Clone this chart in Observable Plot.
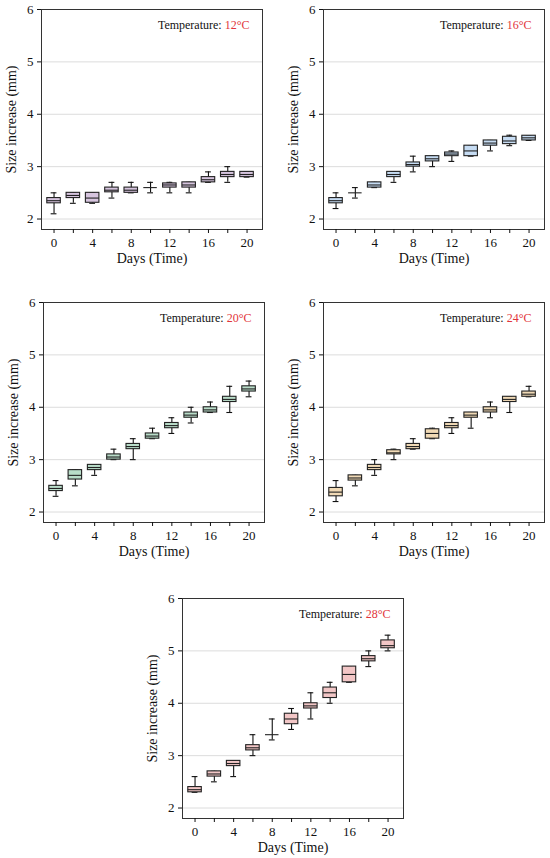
<!DOCTYPE html>
<html>
<head>
<meta charset="utf-8">
<script src="https://cdn.jsdelivr.net/npm/d3@7"></script>
<script src="https://cdn.jsdelivr.net/npm/@observablehq/plot@0.6"></script>
<style>
  body { margin: 0; background: #fff; }
  #wrap { position: relative; width: 550px; height: 858px; background: #fff; }
  .panel { position: absolute; }
</style>
</head>
<body>
<div id="wrap"></div>
<script>
// Days (x categories)
const days = [0, 2, 4, 6, 8, 10, 12, 14, 16, 18, 20];
const temperatures = ["12°C", "16°C", "20°C", "24°C", "28°C"];
const xTicks = [0, 2, 4, 6, 8, 10, 12, 14, 16, 18, 20];
const yTicks = [2, 3, 4, 5, 6];

// Box statistics per day: [whisker low, Q1, median, Q3, whisker high]
const t12 = [
  [2.10, 2.30, 2.35, 2.40, 2.50],
  [2.30, 2.40, 2.45, 2.50, 2.50],
  [2.30, 2.31, 2.40, 2.50, 2.50],
  [2.40, 2.51, 2.55, 2.60, 2.70],
  [2.50, 2.50, 2.55, 2.60, 2.70],
  [2.50, 2.60, 2.60, 2.60, 2.70],
  [2.50, 2.60, 2.65, 2.68, 2.70],
  [2.50, 2.60, 2.65, 2.70, 2.70],
  [2.70, 2.70, 2.75, 2.80, 2.90],
  [2.70, 2.80, 2.85, 2.90, 3.00],
  [2.80, 2.80, 2.85, 2.90, 2.90]
];
const t16 = [
  [2.20, 2.30, 2.35, 2.40, 2.50],
  [2.40, 2.50, 2.50, 2.50, 2.60],
  [2.60, 2.60, 2.65, 2.70, 2.70],
  [2.70, 2.80, 2.85, 2.90, 2.90],
  [2.90, 3.00, 3.04, 3.08, 3.20],
  [3.00, 3.10, 3.15, 3.20, 3.20],
  [3.10, 3.20, 3.24, 3.27, 3.30],
  [3.20, 3.20, 3.30, 3.40, 3.40],
  [3.30, 3.40, 3.45, 3.50, 3.50],
  [3.40, 3.43, 3.49, 3.57, 3.60],
  [3.50, 3.50, 3.55, 3.59, 3.59]
];
const t20 = [
  [2.30, 2.40, 2.45, 2.50, 2.60],
  [2.50, 2.62, 2.70, 2.80, 2.80],
  [2.70, 2.80, 2.85, 2.90, 2.90],
  [3.00, 3.00, 3.05, 3.10, 3.20],
  [3.00, 3.20, 3.25, 3.30, 3.40],
  [3.40, 3.40, 3.45, 3.50, 3.60],
  [3.50, 3.60, 3.65, 3.70, 3.80],
  [3.70, 3.80, 3.85, 3.90, 4.00],
  [3.90, 3.90, 3.95, 4.00, 4.10],
  [3.90, 4.10, 4.15, 4.20, 4.40],
  [4.20, 4.30, 4.35, 4.40, 4.50]
];
const t24 = [
  [2.20, 2.30, 2.38, 2.46, 2.60],
  [2.50, 2.60, 2.65, 2.70, 2.70],
  [2.70, 2.80, 2.85, 2.90, 3.00],
  [3.00, 3.10, 3.13, 3.18, 3.20],
  [3.20, 3.20, 3.25, 3.30, 3.40],
  [3.40, 3.40, 3.50, 3.58, 3.60],
  [3.50, 3.60, 3.65, 3.70, 3.80],
  [3.60, 3.80, 3.85, 3.90, 3.90],
  [3.80, 3.90, 3.95, 4.00, 4.10],
  [3.90, 4.10, 4.15, 4.20, 4.20],
  [4.20, 4.20, 4.25, 4.30, 4.40]
];
const t28 = [
  [2.30, 2.30, 2.35, 2.40, 2.60],
  [2.50, 2.60, 2.65, 2.70, 2.70],
  [2.60, 2.80, 2.85, 2.90, 2.90],
  [3.00, 3.10, 3.15, 3.20, 3.40],
  [3.30, 3.40, 3.40, 3.40, 3.70],
  [3.50, 3.60, 3.70, 3.80, 3.90],
  [3.70, 3.90, 3.95, 4.00, 4.20],
  [4.00, 4.10, 4.20, 4.30, 4.40],
  [4.40, 4.40, 4.55, 4.70, 4.70],
  [4.70, 4.80, 4.85, 4.90, 5.00],
  [5.00, 5.05, 5.10, 5.20, 5.30]
];
const series = [t12, t16, t20, t24, t28];
const fills = ["#d6c4de", "#c6dcf3", "#b9ddc9", "#f1dab6", "#f2c6c6"];

// Panel layout (px)
const layout = [
  {left: 0,   top: 0,   width: 275, ml: 41},
  {left: 282, top: 0,   width: 275, ml: 41},
  {left: 2,   top: 293, width: 276, ml: 41},
  {left: 282, top: 293, width: 275, ml: 41},
  {left: 141, top: 589, width: 279, ml: 41}
];

const wrap = document.getElementById("wrap");
const font = "'Liberation Serif', 'Times New Roman', serif";
const hw = 0.7, cw = 0.3;

series.forEach((s, i) => {
  const rows = days.map((d, j) => ({day: d, lo: s[j][0], q1: s[j][1], med: s[j][2], q3: s[j][3], hi: s[j][4]}));
  const L = layout[i];
  const svg = Plot.plot({
    width: L.width,
    height: 275,
    marginLeft: L.ml,
    marginRight: L.width - L.ml - 221,
    marginTop: 9,
    marginBottom: 46,
    style: {fontFamily: font, fontSize: "13px", color: "#111", background: "#fff"},
    x: {domain: [-1.3, 21.6]},
    y: {domain: [1.8, 6]},
    marks: [
      Plot.ruleY([2, 3, 4, 5], {stroke: "#dcdcdc", strokeWidth: 1}),
      Plot.ruleX(rows, {x: "day", y1: "lo", y2: "hi", stroke: "#111", strokeWidth: 1.1}),
      Plot.ruleY(rows, {y: "lo", x1: d => d.day - cw, x2: d => d.day + cw, stroke: "#111", strokeWidth: 1.1}),
      Plot.ruleY(rows, {y: "hi", x1: d => d.day - cw, x2: d => d.day + cw, stroke: "#111", strokeWidth: 1.1}),
      Plot.rect(rows, {x1: d => d.day - hw, x2: d => d.day + hw, y1: "q1", y2: "q3", fill: fills[i], stroke: "#222", strokeWidth: 1.1}),
      Plot.ruleY(rows, {y: "med", x1: d => d.day - hw, x2: d => d.day + hw, stroke: "#222", strokeWidth: 1.1}),
      Plot.frame({stroke: "#333", strokeWidth: 1}),
      Plot.axisX({ticks: xTicks, tickFormat: d => d % 4 === 0 ? String(d) : "", tickSize: 4, tickPadding: 4,
        label: "Days (Time)", labelAnchor: "center", labelOffset: 33, labelArrow: "none"}),
      Plot.axisY({ticks: yTicks, tickFormat: d => String(d), tickSize: 4, tickPadding: 4,
        label: "Size increase (mm)", labelAnchor: "center", labelOffset: 35, labelArrow: "none"}),
      Plot.text([`Temperature: ${temperatures[i]}`], {frameAnchor: "top-right", dx: -13, dy: 11,
        fontSize: 12, fill: "#111", className: "temp-label"})
    ]
  });
  svg.classList.add("panel");
  svg.style.left = L.left + "px";
  svg.style.top = L.top + "px";
  svg.style.position = "absolute";
  // colour the temperature value red
  svg.querySelectorAll("g.temp-label text").forEach(t => {
    const full = t.textContent;
    const k = full.indexOf(":") + 1;
    t.textContent = "";
    const a = document.createElementNS("http://www.w3.org/2000/svg", "tspan");
    a.textContent = full.slice(0, k) + " ";
    const b = document.createElementNS("http://www.w3.org/2000/svg", "tspan");
    b.textContent = full.slice(k).trim();
    b.setAttribute("fill", "#e2343a");
    t.appendChild(a); t.appendChild(b);
  });
  svg.querySelectorAll("[aria-label='y-axis label'], [aria-label='x-axis label']").forEach(g => g.setAttribute("font-size", "14"));
  svg.querySelectorAll("[aria-label='y-axis label'] text, [aria-label='x-axis label'] text").forEach(t => t.setAttribute("font-size", "14"));
  wrap.appendChild(svg);
});
</script>
</body>
</html>
